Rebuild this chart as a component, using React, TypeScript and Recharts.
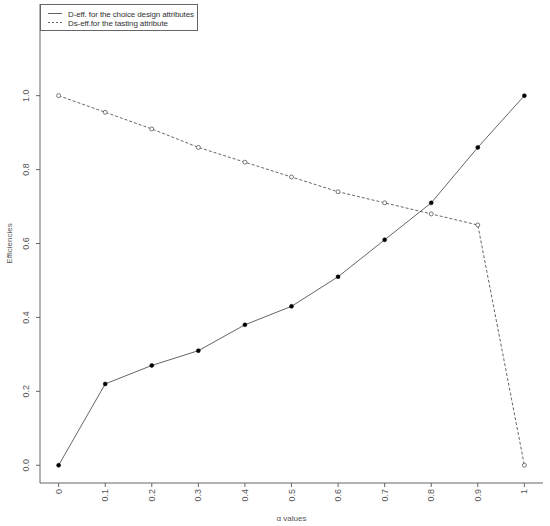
import React from 'react';
import { LineChart, Line, XAxis, YAxis } from 'recharts';

// alpha values on the x axis and the two efficiency series
const alphaValues = [0, 0.1, 0.2, 0.3, 0.4, 0.5, 0.6, 0.7, 0.8, 0.9, 1];
const dEff = [0, 0.22, 0.27, 0.31, 0.38, 0.43, 0.51, 0.61, 0.71, 0.86, 1.0];
const dsEff = [1.0, 0.955, 0.91, 0.86, 0.82, 0.78, 0.74, 0.71, 0.68, 0.65, 0.0];

const xTicks = [0, 0.1, 0.2, 0.3, 0.4, 0.5, 0.6, 0.7, 0.8, 0.9, 1];
const yTicks = [0, 0.2, 0.4, 0.6, 0.8, 1.0];

const data = alphaValues.map((a, i) => ({ alpha: a, d: dEff[i], ds: dsEff[i] }));

const font = '"Liberation Sans", Arial, sans-serif';
const axisColor = '#666';
const textColor = '#555';
const lineColor = '#666';

const XTick = (props: any) => {
  const { x, y, payload } = props;
  return (
    <text
      x={x}
      y={y}
      transform={`rotate(-90 ${x} ${y})`}
      textAnchor="end"
      dominantBaseline="central"
      fontSize={9}
      fontFamily={font}
      fill={textColor}
    >
      {String(payload.value)}
    </text>
  );
};

const YTick = (props: any) => {
  const { x, y, payload } = props;
  return (
    <text
      x={x}
      y={y}
      transform={`rotate(-90 ${x} ${y})`}
      textAnchor="middle"
      fontSize={9}
      fontFamily={font}
      fill={textColor}
    >
      {payload.value.toFixed(1)}
    </text>
  );
};

const FilledDot = (props: any) => {
  const { cx, cy } = props;
  return <circle cx={cx} cy={cy} r={2} fill="#000" stroke="#000" strokeWidth={0.5} />;
};

const OpenDot = (props: any) => {
  const { cx, cy } = props;
  return <circle cx={cx} cy={cy} r={2} fill="#fff" stroke="#555" strokeWidth={0.8} />;
};

const LegendBox = () => (
  <svg width={158} height={27} style={{ position: 'absolute', left: 40, top: 4 }}>
    <rect x={0.5} y={0.5} width={157} height={26} fill="#fff" stroke={axisColor} />
    <line x1={8} y1={9.5} x2={22} y2={9.5} stroke={lineColor} />
    <line x1={8} y1={18.5} x2={22} y2={18.5} stroke={lineColor} strokeDasharray="2 2" />
    <text x={28} y={12.5} fontSize={8} fontFamily={font} fill="#333" textLength={126}>
      D-eff. for the choice design attributes
    </text>
    <text x={28} y={21.5} fontSize={8} fontFamily={font} fill="#333" textLength={100}>
      Ds-eff.for the tasting attribute
    </text>
  </svg>
);

export default function App() {
  return (
    <div style={{ position: 'absolute', left: 0, top: 0, width: 550, height: 526, background: '#fff' }}>
      <LineChart width={550} height={526} data={data} margin={{ top: 4, right: 7, bottom: 0, left: 0 }}>
        <XAxis
          dataKey="alpha"
          type="number"
          domain={[-0.04, 1.04]}
          ticks={xTicks}
          allowDataOverflow
          height={43}
          stroke={axisColor}
          tickSize={4}
          tickMargin={2}
          tick={<XTick />}
          label={(p: any) => {
            const vb = p.viewBox;
            return (
              <text x={vb.x + vb.width / 2} y={vb.y + 38} textAnchor="middle" fontSize={8} fontFamily={font} fill={textColor}>
                α values
              </text>
            );
          }}
        />
        <XAxis xAxisId="top" orientation="top" type="number" domain={[-0.04, 1.04]} height={0} tick={false} tickLine={false} stroke={axisColor} />
        <YAxis
          type="number"
          domain={[-0.048, 1.248]}
          ticks={yTicks}
          allowDataOverflow
          width={40}
          stroke={axisColor}
          tickSize={4}
          tickMargin={7}
          tick={<YTick />}
          label={(p: any) => {
            const vb = p.viewBox;
            const cy = vb.y + vb.height / 2;
            return (
              <text x={12} y={cy} transform={`rotate(-90 12 ${cy})`} textAnchor="middle" fontSize={8} fontFamily={font} fill={textColor}>
                Efficiencies
              </text>
            );
          }}
        />
        <YAxis yAxisId="right" orientation="right" width={0} tick={false} tickLine={false} stroke={axisColor} domain={[-0.048, 1.248]} />
        <Line
          type="linear"
          dataKey="d"
          stroke={lineColor}
          strokeWidth={1}
          dot={<FilledDot />}
          activeDot={false}
          isAnimationActive={false}
        />
        <Line
          type="linear"
          dataKey="ds"
          stroke={lineColor}
          strokeWidth={1}
          strokeDasharray="3 2"
          dot={<OpenDot />}
          activeDot={false}
          isAnimationActive={false}
        />
      </LineChart>
      <LegendBox />
    </div>
  );
}
